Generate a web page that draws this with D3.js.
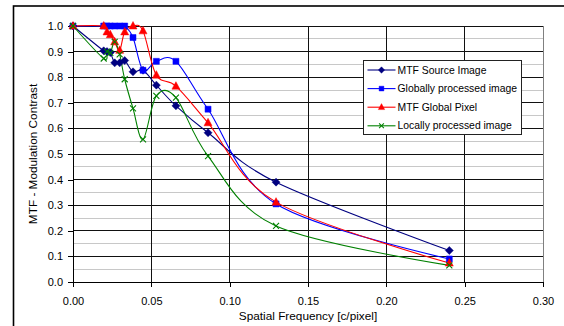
<!DOCTYPE html>
<html lang="en">
<head>
    <meta charset="UTF-8">
    <title>MTF</title>
    <script src="https://d3js.org/d3.v7.min.js"></script>
    <style>
        body { margin: 0; background: white; }
        text { font-family: "Liberation Sans", Arial, sans-serif; font-size: 11px; fill: #000; }
        .grid line { shape-rendering: crispEdges; }
        path.series { fill: none; stroke-width: 1.1; }
    </style>
</head>
<body>
<script>
    var freq = [0, 0.0196, 0.0217, 0.0238, 0.0266, 0.0298, 0.0330, 0.0383, 0.0447, 0.0532, 0.0657, 0.0862, 0.1296, 0.2402];

    var mtfSource = [1.0, 0.903, 0.900, 0.896, 0.856, 0.856, 0.865, 0.821, 0.827, 0.769, 0.688, 0.583, 0.390, 0.123];
    var globalProc = [1.0, 1.0, 1.0, 1.0, 1.0, 1.0, 1.0, 0.955, 0.827, 0.862, 0.862, 0.675, 0.305, 0.090];
    var mtfGlobalPixel = [1.0, 1.0, 0.977, 0.966, 0.938, 0.905, 0.977, 1.0, 0.981, 0.808, 0.765, 0.622, 0.312, 0.074];
    var localProc = [1.0, 0.873, 0.900, 0.895, 0.938, 0.889, 0.792, 0.678, 0.557, 0.727, 0.720, 0.492, 0.219, 0.065];

    var seriesNames = ["MTF Source Image", "Globally processed image", "MTF Global Pixel", "Locally processed image"];
    var xTicks = [0, 0.05, 0.10, 0.15, 0.20, 0.25, 0.30];
    var yTicks = [0, 0.1, 0.2, 0.3, 0.4, 0.5, 0.6, 0.7, 0.8, 0.9, 1.0];

    var series = [
        { name: seriesNames[0], values: mtfSource, color: "#000080", marker: "diamond" },
        { name: seriesNames[1], values: globalProc, color: "#0000ff", marker: "square" },
        { name: seriesNames[2], values: mtfGlobalPixel, color: "#ff0000", marker: "triangle" },
        { name: seriesNames[3], values: localProc, color: "#008000", marker: "cross" }
    ];

    var markers = {
        diamond: "M0,-4L4,0L0,4L-4,0Z",
        square: "M-3,-3h6v6h-6Z",
        triangle: "M0,-4.5L4,3L-4,3Z",
        cross: "M-3,-3L3,3M3,-3L-3,3"
    };

    var W = 564, H = 326;
    var plotL = 73, plotR = 543, plotT = 26, plotB = 282;

    var svg = d3.select("body").append("svg")
        .attr("width", W).attr("height", H);

    // outer chart frame
    svg.append("rect")
        .attr("x", 13.5).attr("y", 6)
        .attr("width", W).attr("height", H)
        .attr("fill", "white").attr("stroke", "#000").attr("stroke-width", 1.6);

    var x = d3.scaleLinear().domain([0, 0.3]).range([plotL, plotR]);
    var y = d3.scaleLinear().domain([0, 1]).range([plotB, plotT]);

    var grid = svg.append("g").attr("class", "grid");

    var minor = d3.range(0.05, 1, 0.1);
    grid.selectAll("line.minor").data(minor).enter().append("line")
        .attr("class", "minor")
        .attr("x1", plotL).attr("x2", plotR)
        .attr("y1", function(d) { return y(d); })
        .attr("y2", function(d) { return y(d); })
        .attr("stroke", "#c8c8c8");

    grid.selectAll("line.hmajor").data(yTicks.slice(1)).enter().append("line")
        .attr("class", "hmajor")
        .attr("x1", plotL).attr("x2", plotR)
        .attr("y1", function(d) { return y(d); })
        .attr("y2", function(d) { return y(d); })
        .attr("stroke", "#111");

    grid.selectAll("line.vmajor").data(xTicks.slice(1)).enter().append("line")
        .attr("class", "vmajor")
        .attr("y1", plotT).attr("y2", plotB)
        .attr("x1", function(d) { return x(d); })
        .attr("x2", function(d) { return x(d); })
        .attr("stroke", function(d) { return d === 0.30 ? "#808080" : "#111"; });

    var xAxis = svg.append("g")
        .attr("transform", "translate(0," + plotB + ")")
        .call(d3.axisBottom(x).tickValues(xTicks).tickFormat(d3.format(".2f")).tickSize(5).tickSizeOuter(0));
    var yAxis = svg.append("g")
        .attr("transform", "translate(" + plotL + ",0)")
        .call(d3.axisLeft(y).tickValues(yTicks).tickFormat(d3.format(".1f")).tickSize(5).tickSizeOuter(0));

    [xAxis, yAxis].forEach(function(a) {
        a.selectAll("path.domain").attr("stroke", "#000").attr("shape-rendering", "crispEdges");
        a.selectAll(".tick line").attr("stroke", "#000").attr("shape-rendering", "crispEdges");
        a.selectAll("text").attr("font-family", "Liberation Sans, Arial, sans-serif")
            .attr("font-size", 11).attr("fill", "#000");
    });
    xAxis.selectAll("text").attr("dy", "1.35em");
    yAxis.selectAll("text").attr("x", -10);

    svg.append("text")
        .attr("x", (plotL + plotR) / 2).attr("y", 320)
        .attr("text-anchor", "middle")
        .style("font-size", "11.8px")
        .text("Spatial Frequency [c/pixel]");

    svg.append("text")
        .attr("transform", "translate(37," + (plotT + plotB) / 2 + ") rotate(-90)")
        .attr("text-anchor", "middle")
        .style("font-size", "11.8px")
        .text("MTF - Modulation Contrast");

    var line = d3.line()
        .x(function(d) { return x(d[0]); })
        .y(function(d) { return y(d[1]); })
        .curve(d3.curveCardinal.tension(0));

    series.forEach(function(s) {
        var pts = freq.map(function(f, i) { return [f, s.values[i]]; });
        svg.append("path")
            .attr("class", "series")
            .attr("d", line(pts))
            .attr("stroke", s.color);
    });

    series.forEach(function(s) {
        var pts = freq.map(function(f, i) { return [f, s.values[i]]; });
        svg.append("g").selectAll("path").data(pts).enter().append("path")
            .attr("transform", function(d) { return "translate(" + x(d[0]) + "," + y(d[1]) + ")"; })
            .attr("d", markers[s.marker])
            .attr("fill", s.marker === "cross" ? "none" : s.color)
            .attr("stroke", s.color)
            .attr("stroke-width", s.marker === "cross" ? 1.1 : 0.5);
    });

    // legend
    var legend = svg.append("g").attr("transform", "translate(363.5,60.5)");
    legend.append("rect")
        .attr("width", 158).attr("height", 74)
        .attr("fill", "white").attr("stroke", "#222");

    var rows = legend.selectAll("g.row").data(series).enter().append("g")
        .attr("class", "row")
        .attr("transform", function(d, i) { return "translate(0," + (9.5 + i * 18.6) + ")"; });
    rows.append("line")
        .attr("x1", 4).attr("x2", 32)
        .attr("stroke", function(d) { return d.color; })
        .attr("stroke-width", 1.1);
    rows.append("path")
        .attr("transform", "translate(18,0) scale(0.8)")
        .attr("d", function(d) { return markers[d.marker]; })
        .attr("fill", function(d) { return d.marker === "cross" ? "none" : d.color; })
        .attr("stroke", function(d) { return d.color; })
        .attr("stroke-width", function(d) { return d.marker === "cross" ? 1.3 : 0.5; });
    rows.append("text")
        .attr("x", 34).attr("dy", "0.35em")
        .style("font-size", "10.4px")
        .text(function(d) { return d.name; });
</script>
</body>
</html>
